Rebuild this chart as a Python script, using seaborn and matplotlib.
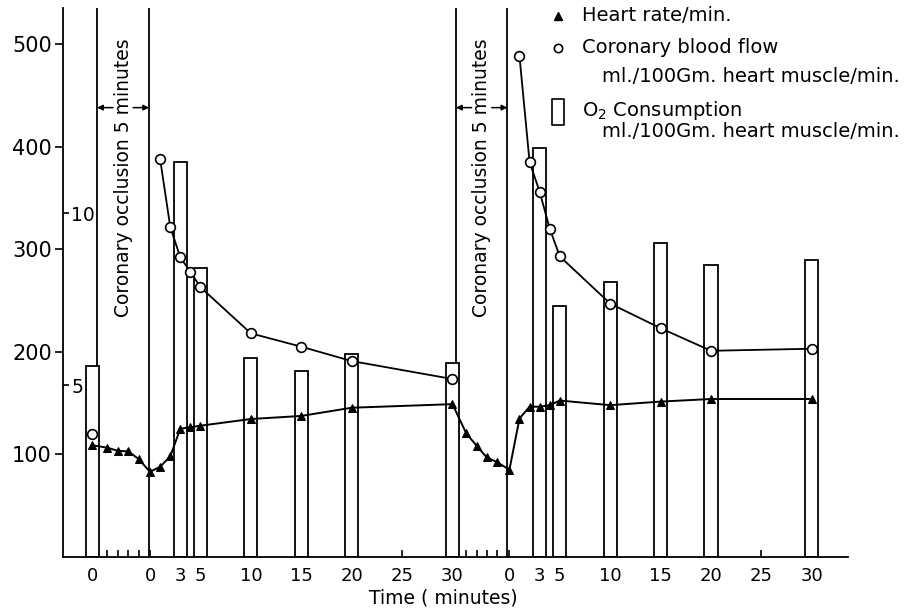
import numpy as np
import pandas as pd
import matplotlib
matplotlib.use("Agg")
import matplotlib.pyplot as plt
import seaborn as sns
from matplotlib.path import Path

# values
occ_minutes = [1, 2, 3, 4]
rec_minutes = [0, 1, 2, 3, 4, 5, 10, 15, 20, 30]
hr_control = 109
hr_occ1 = [106.5, 103.5, 103, 95.5]
hr_rec1 = [83, 88, 98, 125, 126.5, 128, 134.5, 137.5, 145.5, 149]
hr_occ2 = [120.5, 108.5, 97, 92.5]
hr_rec2 = [85, 135, 146.5, 146.5, 148, 152.5, 148, 151.5, 154, 154]

cbf_minutes = [1, 2, 3, 4, 5, 10, 15, 20, 30]
cbf_control = 120
cbf_rec1 = [388, 322, 292, 278, 263, 218, 205, 191, 173.5]
cbf_rec2 = [488, 385, 356, 320, 293, 247, 223, 201, 203]

o2_minutes = [3, 5, 10, 15, 20, 30]
o2_control = 5.55
o2_rec1 = [11.5, 8.4, 5.8, 5.4, 5.9, 5.65]
o2_rec2 = [11.9, 7.3, 8.0, 9.15, 8.5, 8.65]

tick_minutes = [0, 3, 5, 10, 15, 20, 25, 30]

# layout of the broken time axis (chart units ~ minutes)
OCC1 = (0.5, 5.65)
OCC2 = (36.1, 41.2)
REC1 = 5.75
REC2 = 41.4
O2_SCALE = 33.5  # left axis units per ml O2


def occ_pos(occ, minutes):
    step = (occ[1] - occ[0]) / 5
    return [occ[0] + m * step for m in minutes]


hr_df = pd.DataFrame({
    "pos": [0] + occ_pos(OCC1, occ_minutes) + [REC1 + m for m in rec_minutes]
           + occ_pos(OCC2, occ_minutes) + [REC2 + m for m in rec_minutes],
    "rate": [hr_control] + hr_occ1 + hr_rec1 + hr_occ2 + hr_rec2,
})

cbf_df = pd.DataFrame({
    "pos": [0] + [REC1 + m for m in cbf_minutes] + [REC2 + m for m in cbf_minutes],
    "flow": [cbf_control] + cbf_rec1 + cbf_rec2,
    "phase": ["control"] + ["rec1"] * len(cbf_rec1) + ["rec2"] * len(cbf_rec2),
})

o2_pos = [0] + [REC1 + m for m in o2_minutes] + [REC2 + m for m in o2_minutes]
o2_vals = np.array([o2_control] + o2_rec1 + o2_rec2)

sns.set_theme(style="ticks")
plt.rcParams['font.family'] = ['DejaVu Sans']
plt.rcParams['axes.linewidth'] = 1.3
for key in ("text.color", "axes.labelcolor", "xtick.color", "ytick.color", "axes.edgecolor"):
    plt.rcParams[key] = "black"

fig = plt.figure(figsize=(9.15, 6.14), dpi=100)
ax = fig.add_axes([0.0689, 0.0928, 0.858, 0.894])

# occlusion boundaries
for x in (*OCC1, *OCC2):
    ax.axvline(x, color="black", lw=1.3, zorder=1)

# O2 consumption bars
ax.bar(o2_pos, o2_vals * O2_SCALE, width=1.3, facecolor="white",
       edgecolor="black", linewidth=1.3, zorder=2)

sns.lineplot(data=hr_df, x="pos", y="rate", sort=False, estimator=None,
             color="black", lw=1.4, marker="^", markersize=6,
             markeredgecolor="black", ax=ax, zorder=3)
sns.lineplot(data=cbf_df, x="pos", y="flow", units="phase", estimator=None,
             color="black", lw=1.3, marker="o", markersize=7,
             markerfacecolor="white", markeredgecolor="black",
             markeredgewidth=1.2, ax=ax, zorder=4)

# occlusion annotations
for occ in (OCC1, OCC2):
    mid = (occ[0] + occ[1]) / 2
    ax.text(mid, 370, "Coronary occlusion 5 minutes", rotation=90,
            ha="center", va="center", fontsize=13.5, zorder=5)
    arrow = dict(arrowstyle="-|>", color="black", lw=1.1,
                 mutation_scale=8, shrinkA=0, shrinkB=0)
    ax.annotate("", xy=(occ[0], 438), xytext=(mid - 1.0, 438), arrowprops=arrow)
    ax.annotate("", xy=(occ[1], 438), xytext=(mid + 1.0, 438), arrowprops=arrow)

ax.set_xlim(-2.88, 75.0)
ax.set_ylim(0, 535)

xticks = [0] + [REC1 + m for m in tick_minutes] + [REC2 + m for m in tick_minutes]
xlabels = ["0"] + [str(m) for m in tick_minutes] * 2
ax.set_xticks(xticks)
ax.set_xticklabels(xlabels)
ax.set_xticks(occ_pos(OCC1, occ_minutes) + occ_pos(OCC2, occ_minutes), minor=True)
ax.tick_params(axis="x", which="both", direction="in", length=5, width=1.2,
               labelsize=13, pad=7)
ax.set_yticks([100, 200, 300, 400, 500])
ax.tick_params(axis="y", direction="out", length=6, width=1.2, labelsize=15, pad=2)
ax.set_xlabel("Time ( minutes)", fontsize=13.5, labelpad=4)
ax.xaxis.set_label_coords(0.484, -0.058)
ax.set_ylabel("")
sns.despine(ax=ax)

sec = ax.secondary_yaxis(0, functions=(lambda y: y / O2_SCALE, lambda v: v * O2_SCALE))
sec.set_alignment("right")
sec.set_yticks([5, 10])
sec.tick_params(direction="out", length=4, width=1.2, labelsize=13.5, pad=2)
sec.spines["right"].set_visible(False)
sec.spines["left"].set_visible(False)

# legend
tr = ax.transAxes
rect = Path([(-0.44, -1), (0.44, -1), (0.44, 1), (-0.44, 1), (-0.44, -1)], closed=True)
ax.plot([0.631], [0.985], marker="^", ms=6, color="black", ls="none",
        transform=tr, clip_on=False)
ax.plot([0.631], [0.927], marker="o", ms=6, mfc="white", mec="black", mew=1.2,
        ls="none", transform=tr, clip_on=False)
ax.plot([0.631], [0.811], marker=rect, ms=19, mfc="white", mec="black", mew=1.2,
        ls="none", transform=tr, clip_on=False)
ax.text(0.661, 0.987, "Heart rate/min.", fontsize=14, va="center", transform=tr)
ax.text(0.661, 0.929, "Coronary blood flow", fontsize=14, va="center", transform=tr)
ax.text(0.687, 0.876, "ml./100Gm. heart muscle/min.", fontsize=14, va="center", transform=tr)
ax.text(0.661, 0.814, "O$_2$ Consumption", fontsize=14, va="center", transform=tr)
ax.text(0.687, 0.776, "ml./100Gm. heart muscle/min.", fontsize=14, va="center", transform=tr)

fig.savefig("out.png", dpi=100)
